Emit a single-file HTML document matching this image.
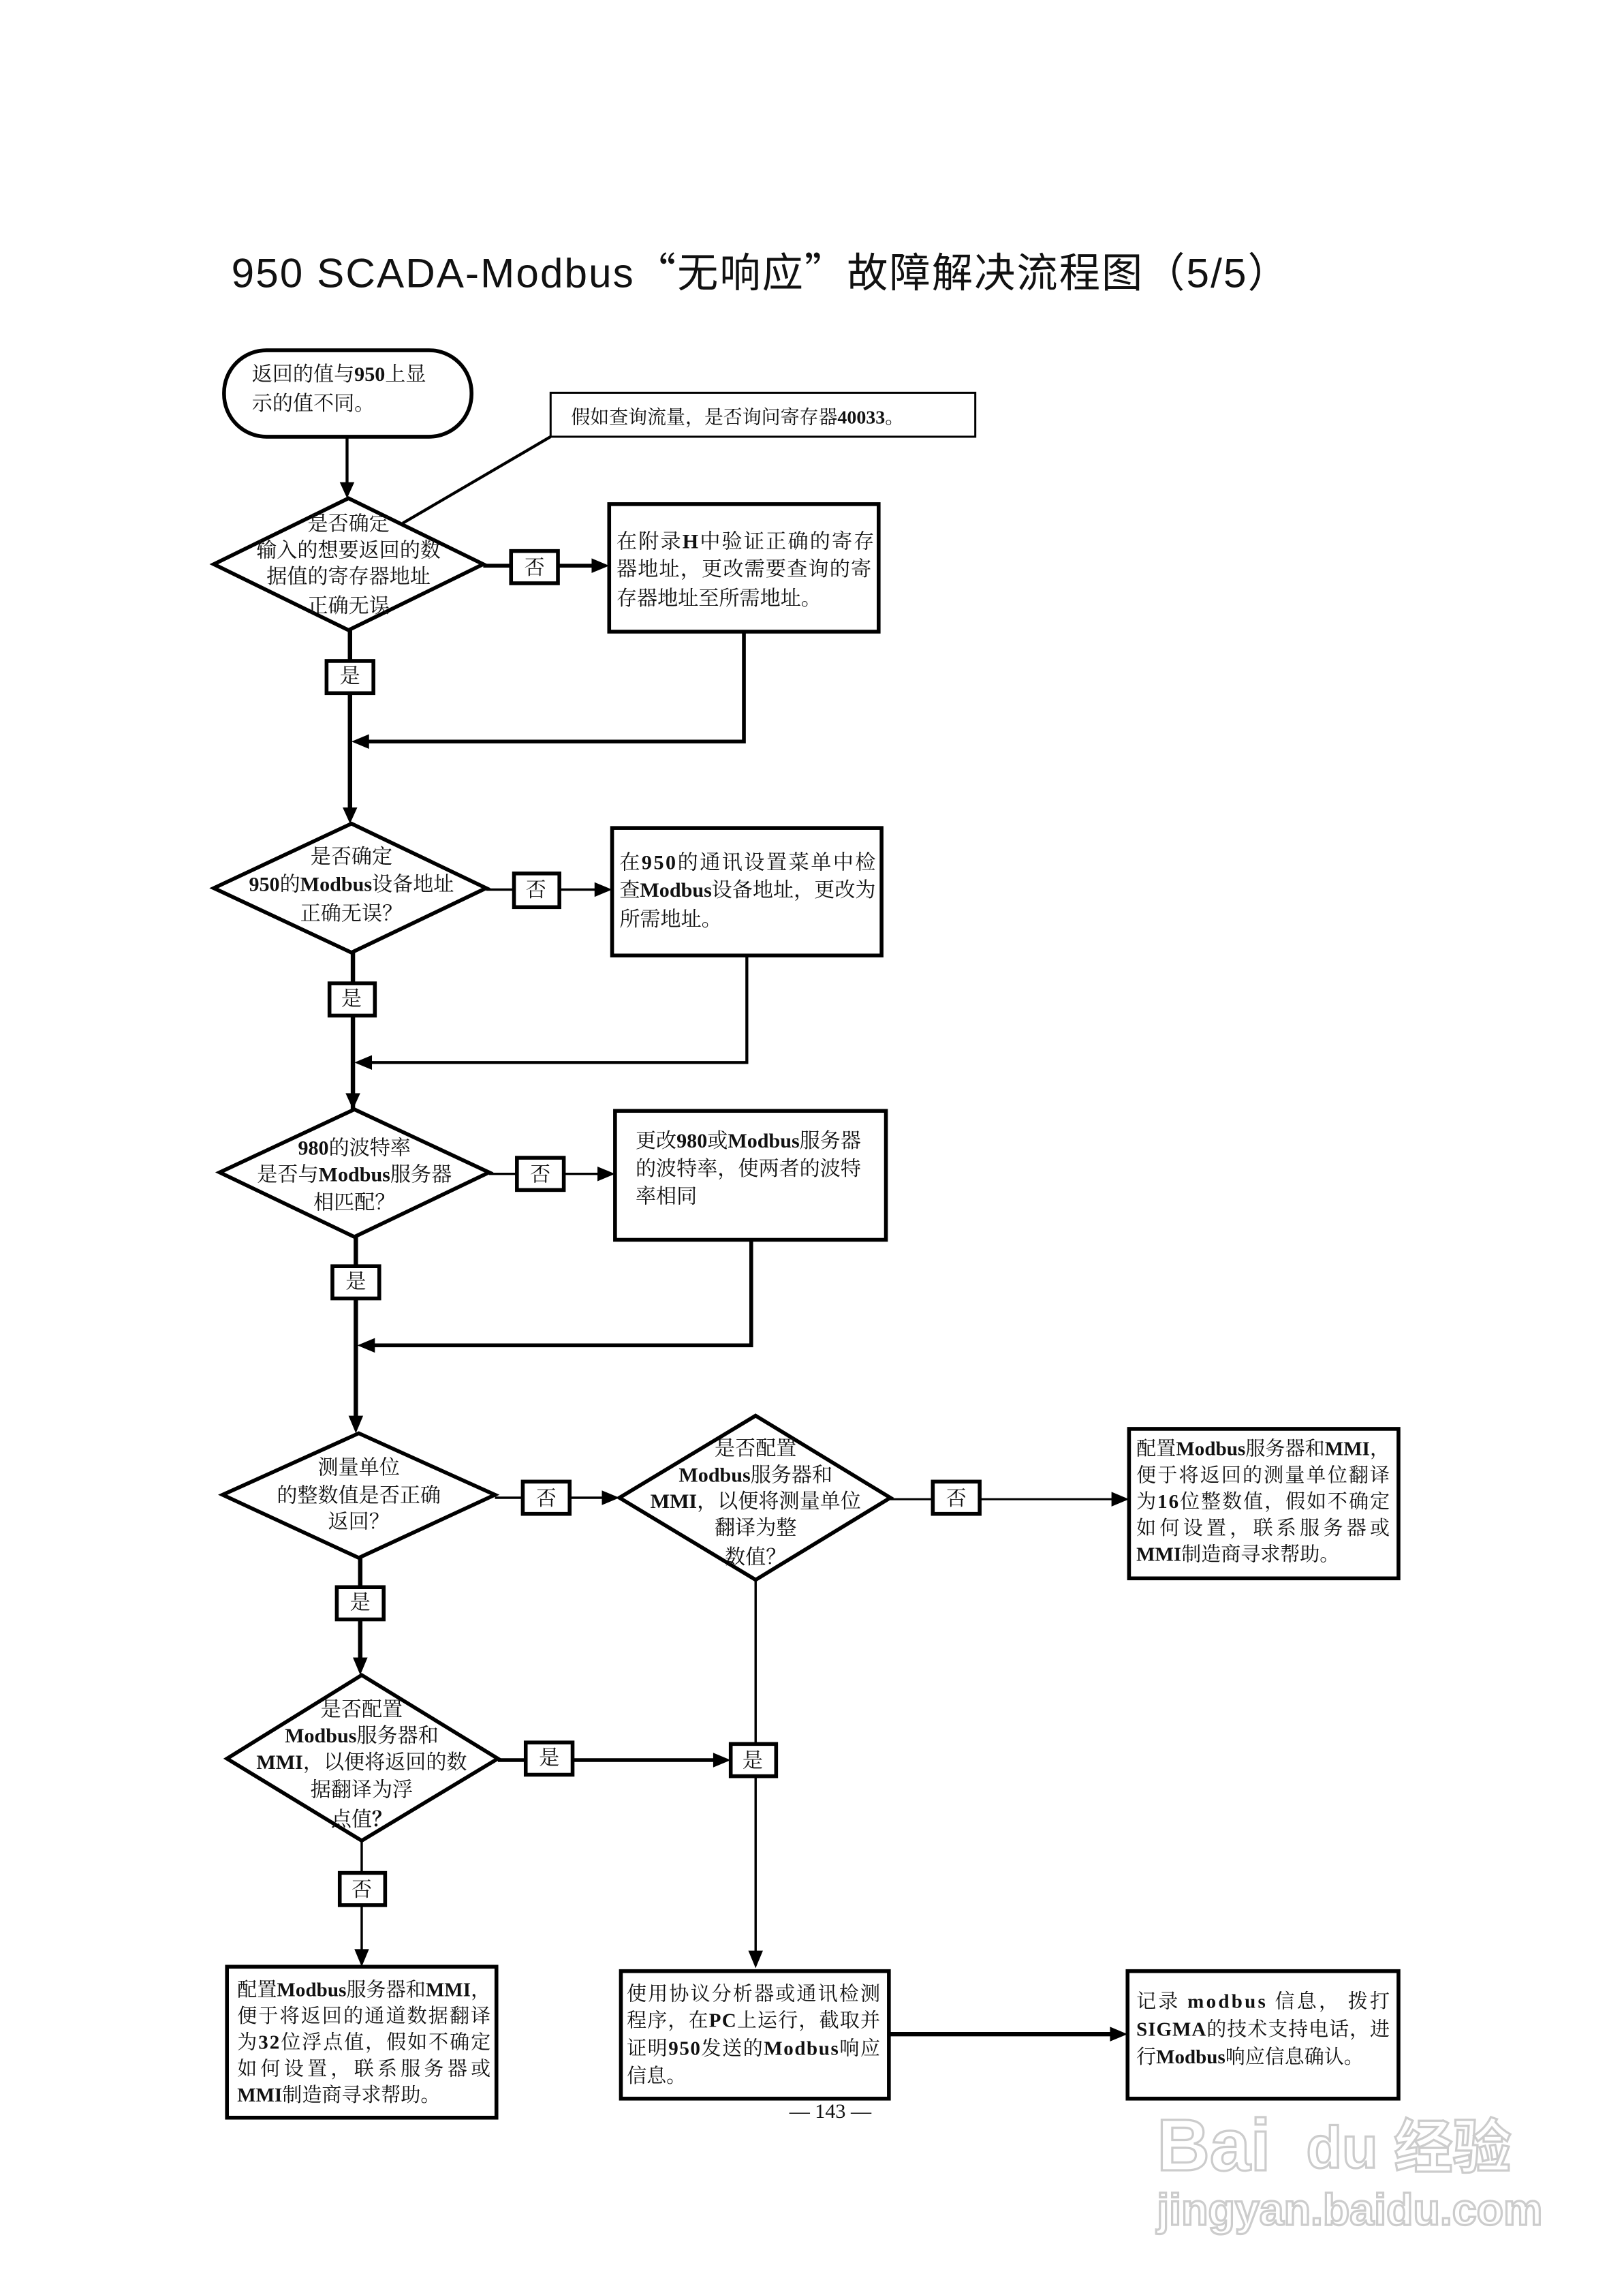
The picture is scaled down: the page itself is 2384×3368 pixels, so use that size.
<!DOCTYPE html>
<html><head><meta charset="utf-8"><style>
html,body{margin:0;padding:0;background:#fff}
svg{display:block}
text{font-family:"Liberation Serif","Noto Serif CJK SC",serif;fill:#111}
.b{font-weight:700}
.wm{font-family:"Liberation Sans","Noto Sans CJK SC",sans-serif;font-weight:700;fill:#fff;stroke:#ccc;stroke-width:1.5}
</style></head><body>
<svg width="2384" height="3368" viewBox="0 0 1109 1566" preserveAspectRatio="none" xmlns="http://www.w3.org/2000/svg">
<rect width="1109" height="1566" fill="#fff"/>
<text x="158" y="196" style="font-family:'Liberation Sans','Noto Sans CJK SC',sans-serif" font-size="28" textLength="722" lengthAdjust="spacing">950 SCADA-Modbus<tspan style="font-family:'Noto Sans CJK SC',sans-serif">“无响应”</tspan>故障解决流程图（5/5）</text>

<g stroke="#000" fill="none" stroke-width="2.6">
<rect x="153" y="239" width="169" height="59" rx="29"/>
<rect x="376" y="268" width="290" height="30" stroke-width="1.4"/>
<line x1="376" y1="298" x2="275" y2="357" stroke-width="2"/>
<polygon points="238,340 330,385 238,430 146,385"/>
<polygon points="240,562 332,606 240,650 146,606"/>
<polygon points="242,757 334,800 242,844 150,800"/>
<polygon points="245,978 338,1020 245,1063 152,1020"/>
<polygon points="516,966 608,1022 516,1078 423,1022"/>
<polygon points="247,1143 340,1200 247,1256 155,1200"/>
<rect x="416" y="344" width="184" height="87"/>
<rect x="418" y="565" width="184" height="87"/>
<rect x="420" y="758" width="185" height="88"/>
<rect x="771" y="975" width="184" height="102"/>
<rect x="155" y="1342" width="184" height="103"/>
<rect x="424" y="1345" width="183" height="87"/>
<rect x="770" y="1345" width="185" height="87"/>
<rect x="349" y="376" width="32" height="22"/>
<rect x="223" y="451" width="32" height="22"/>
<rect x="351" y="596" width="31" height="23"/>
<rect x="225" y="671" width="31" height="22"/>
<rect x="353" y="790" width="32" height="22"/>
<rect x="227" y="864" width="32" height="22"/>
<rect x="357" y="1011" width="32" height="22"/>
<rect x="637" y="1011" width="32" height="22"/>
<rect x="230" y="1083" width="32" height="22"/>
<rect x="359" y="1189" width="32" height="22"/>
<rect x="499" y="1190" width="31" height="22"/>
<rect x="232" y="1278" width="31" height="22"/>

<line x1="237" y1="298" x2="237" y2="330" stroke-width="2"/>
<line x1="330" y1="386" x2="349" y2="386"/>
<line x1="381" y1="386" x2="406" y2="386"/>
<line x1="239" y1="430" x2="239" y2="451" stroke-width="3"/>
<line x1="239" y1="473" x2="239" y2="552" stroke-width="3"/>
<polyline points="508,431 508,506 250,506"/>
<line x1="332" y1="607" x2="351" y2="607" stroke-width="1.6"/>
<line x1="382" y1="607" x2="408" y2="607" stroke-width="1.6"/>
<line x1="241" y1="650" x2="241" y2="671" stroke-width="3"/>
<line x1="241" y1="693" x2="241" y2="757" stroke-width="3"/>
<polyline points="510,652 510,725 252,725" stroke-width="2"/>
<line x1="334" y1="801" x2="353" y2="801" stroke-width="1.6"/>
<line x1="385" y1="801" x2="410" y2="801" stroke-width="1.6"/>
<line x1="243" y1="844" x2="243" y2="864" stroke-width="3"/>
<line x1="243" y1="886" x2="243" y2="968" stroke-width="3"/>
<polyline points="513,846 513,918 254,918"/>
<line x1="338" y1="1022" x2="357" y2="1022" stroke-width="1.6"/>
<line x1="389" y1="1022" x2="413" y2="1022" stroke-width="1.6"/>
<line x1="608" y1="1023" x2="637" y2="1023" stroke-width="1.4"/>
<line x1="669" y1="1023" x2="760" y2="1023" stroke-width="1.4"/>
<line x1="246" y1="1063" x2="246" y2="1083" stroke-width="3"/>
<line x1="246" y1="1105" x2="246" y2="1133" stroke-width="3"/>
<line x1="340" y1="1201" x2="359" y2="1201"/>
<line x1="391" y1="1201" x2="489" y2="1201"/>
<line x1="516" y1="1078" x2="516" y2="1190" stroke-width="1.6"/>
<line x1="516" y1="1212" x2="516" y2="1332" stroke-width="1.6"/>
<line x1="247" y1="1256" x2="247" y2="1278" stroke-width="1.6"/>
<line x1="247" y1="1300" x2="247" y2="1332" stroke-width="1.6"/>
<line x1="607" y1="1388" x2="760" y2="1388" stroke-width="3"/>
</g>

<g fill="#000">
<polygon points="232,329 242,329 237,340"/>
<polygon points="404,381 404,391 416,386"/>
<polygon points="234,551 244,551 239,562"/>
<polygon points="252,501 252,511 240,506"/>
<polygon points="406,602 406,612 418,607"/>
<polygon points="236,746 246,746 241,757"/>
<polygon points="254,720 254,730 242,725"/>
<polygon points="408,796 408,806 420,801"/>
<polygon points="238,966 248,966 243,978"/>
<polygon points="256,913 256,923 244,918"/>
<polygon points="411,1017 411,1027 423,1022"/>
<polygon points="759,1018 759,1028 771,1023"/>
<polygon points="241,1131 251,1131 246,1143"/>
<polygon points="487,1196 487,1206 499,1201"/>
<polygon points="511,1331 521,1331 516,1343"/>
<polygon points="242,1330 252,1330 247,1342"/>
<polygon points="758,1383 758,1393 770,1388"/>
</g>

<g font-size="14">
<text x="172" y="260">返回的值与<tspan class="b">950</tspan>上显</text>
<text x="172" y="280">示的值不同。</text>
<text x="390" y="289" font-size="13">假如查询流量，是否询问寄存器<tspan class="b">40033</tspan>。</text>

<g text-anchor="middle">
<text x="238" y="362">是否确定</text>
<text x="238" y="380">输入的想要返回的数</text>
<text x="238" y="398">据值的寄存器地址</text>
<text x="238" y="418">正确无误</text>
<text x="240" y="589">是否确定</text>
<text x="240" y="608"><tspan class="b">950</tspan>的<tspan class="b">Modbus</tspan>设备地址</text>
<text x="240" y="628">正确无误？</text>
<text x="242" y="788"><tspan class="b">980</tspan>的波特率</text>
<text x="242" y="806">是否与<tspan class="b">Modbus</tspan>服务器</text>
<text x="242" y="825">相匹配？</text>
<text x="245" y="1006">测量单位</text>
<text x="245" y="1025">的整数值是否正确</text>
<text x="245" y="1043">返回？</text>
<text x="516" y="993">是否配置</text>
<text x="516" y="1011"><tspan class="b">Modbus</tspan>服务器和</text>
<text x="516" y="1029"><tspan class="b">MMI</tspan>，以便将测量单位</text>
<text x="516" y="1047">翻译为整</text>
<text x="516" y="1067">数值？</text>
<text x="247" y="1171">是否配置</text>
<text x="247" y="1189"><tspan class="b">Modbus</tspan>服务器和</text>
<text x="247" y="1207"><tspan class="b">MMI</tspan>，以便将返回的数</text>
<text x="247" y="1226">据翻译为浮</text>
<text x="247" y="1246">点值<tspan class="b">？</tspan></text>

<text x="365" y="392">否</text>
<text x="239" y="466">是</text>
<text x="366" y="612">否</text>
<text x="240" y="686">是</text>
<text x="369" y="806">否</text>
<text x="243" y="879">是</text>
<text x="373" y="1027">否</text>
<text x="653" y="1027">否</text>
<text x="246" y="1098">是</text>
<text x="375" y="1204">是</text>
<text x="514" y="1206">是</text>
<text x="247" y="1294">否</text>
</g>

<text x="421" y="374" textLength="176" lengthAdjust="spacing">在附录<tspan class="b">H</tspan>中验证正确的寄存</text>
<text x="421" y="393" textLength="174" lengthAdjust="spacing">器地址，更改需要查询的寄</text>
<text x="421" y="413">存器地址至所需地址。</text>
<text x="423" y="593" textLength="175" lengthAdjust="spacing">在<tspan class="b">950</tspan>的通讯设置菜单中检</text>
<text x="423" y="612" textLength="175" lengthAdjust="spacing">查<tspan class="b">Modbus</tspan>设备地址，更改为</text>
<text x="423" y="632">所需地址。</text>
<text x="434" y="783">更改<tspan class="b">980</tspan>或<tspan class="b">Modbus</tspan>服务器</text>
<text x="434" y="802">的波特率，使两者的波特</text>
<text x="434" y="821">率相同</text>

<text x="776" y="993" font-size="13.5" textLength="173" lengthAdjust="spacing">配置<tspan class="b">Modbus</tspan>服务器和<tspan class="b">MMI</tspan>，</text>
<text x="776" y="1011" font-size="13.5" textLength="173" lengthAdjust="spacing">便于将返回的测量单位翻译</text>
<text x="776" y="1029" font-size="13.5" textLength="173" lengthAdjust="spacing">为<tspan class="b">16</tspan>位整数值，假如不确定</text>
<text x="776" y="1047" font-size="13.5" textLength="173" lengthAdjust="spacing">如何设置，联系服务器或</text>
<text x="776" y="1065" font-size="13.5"><tspan class="b">MMI</tspan>制造商寻求帮助。</text>

<text x="162" y="1362" font-size="13.5" textLength="173" lengthAdjust="spacing">配置<tspan class="b">Modbus</tspan>服务器和<tspan class="b">MMI</tspan>，</text>
<text x="162" y="1380" font-size="13.5" textLength="173" lengthAdjust="spacing">便于将返回的通道数据翻译</text>
<text x="162" y="1398" font-size="13.5" textLength="173" lengthAdjust="spacing">为<tspan class="b">32</tspan>位浮点值，假如不确定</text>
<text x="162" y="1416" font-size="13.5" textLength="173" lengthAdjust="spacing">如何设置，联系服务器或</text>
<text x="162" y="1434" font-size="13.5"><tspan class="b">MMI</tspan>制造商寻求帮助。</text>

<text x="428" y="1365" font-size="13.5" textLength="173" lengthAdjust="spacing">使用协议分析器或通讯检测</text>
<text x="428" y="1383" font-size="13.5" textLength="173" lengthAdjust="spacing">程序，在<tspan class="b">PC</tspan>上运行，截取并</text>
<text x="428" y="1402" font-size="13.5" textLength="173" lengthAdjust="spacing">证明<tspan class="b">950</tspan>发送的<tspan class="b">Modbus</tspan>响应</text>
<text x="428" y="1421" font-size="13.5">信息。</text>

<text x="776" y="1370" font-size="13.5" textLength="173" lengthAdjust="spacing">记录 <tspan class="b">modbus</tspan> 信息， 拨打</text>
<text x="776" y="1389" font-size="13.5" textLength="173" lengthAdjust="spacing"><tspan class="b">SIGMA</tspan>的技术支持电话，进</text>
<text x="776" y="1408" font-size="13.5">行<tspan class="b">Modbus</tspan>响应信息确认。</text>

<text x="567" y="1445" text-anchor="middle" font-size="14">— 143 —</text>
</g>

<text class="wm" x="790" y="1481" font-size="50">Bai</text>
<text class="wm" x="892" y="1479" font-size="40">du</text>
<text class="wm" x="952" y="1479" font-size="40">经验</text>
<text class="wm" x="790" y="1518" font-size="30">jingyan.baidu.com</text>
</svg>
</body></html>
